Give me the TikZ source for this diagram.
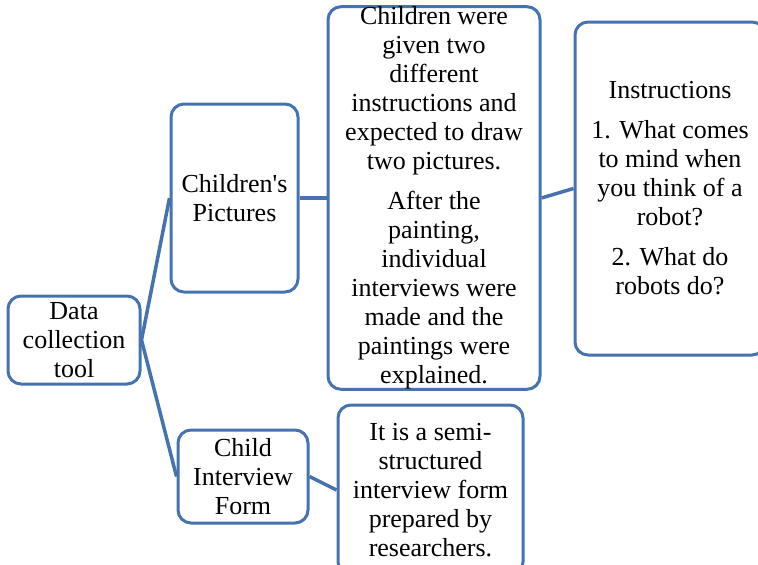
\documentclass[tikz,border=0pt]{standalone}
\usepackage{fontspec}
\setmainfont{Liberation Serif}[Ligatures=TeXOff]
\usepackage{tikz}
\usetikzlibrary{shapes,arrows}
\definecolor{smartblue}{RGB}{70,115,176}

\begin{document}
\begin{tikzpicture}[x=1pt,y=-1pt]
			\tikzset{align=center,font=\fontsize{26}{29}\selectfont}
			
			\tikzset{box/.style = {shape=rectangle,draw=smartblue,fill=white,line width=3pt,rounded corners=13pt,inner sep=0pt}}
			
			\tikzset{link/.style = {-,draw=smartblue,line width=3.5pt}}
			
			\useasboundingbox (0,0) rectangle (758,565);
			
			% boxes
			
			\node[box,minimum width=132pt,minimum height=88pt] (tool) at (74,340) {Data\\collection\\tool};
			
			\node[box,minimum width=127pt,minimum height=188pt] (pics) at (234.5,198) {Children's\\Pictures};
			
			\node[box,minimum width=212pt,minimum height=376pt] (desc) at (434,198) {Children were\\given two\\different\\instructions and\\expected to draw\\two pictures.\\[11pt]After the\\painting,\\individual\\interviews were\\made and the\\paintings were\\explained.};
			
			\node[box,minimum width=190pt,minimum height=333pt] (instr) at (670,188.5) {Instructions\\[11pt]1. What comes\\to mind when\\you think of a\\robot?\\[11pt]2. What do\\robots do?};
			
			\node[box,minimum width=130pt,minimum height=93pt] (form) at (243,476.5) {Child\\Interview\\Form};
			
			\node[box,minimum width=185pt,minimum height=170pt] (semi) at (430.5,490) {It is a semi-\\structured\\interview form\\prepared by\\researchers.};
			%links
			
			\begin{scope}
			\draw[link] (tool.east) -- (pics.west);
			\draw[link] (tool.east) -- (form.west);
			\draw[link] (pics.east) -- (desc.west);
			\draw[link] (desc.east) -- (instr.west);
			\draw[link] (form.east) -- (semi.west);
			\end{scope}
			\end{tikzpicture}
\end{document}
